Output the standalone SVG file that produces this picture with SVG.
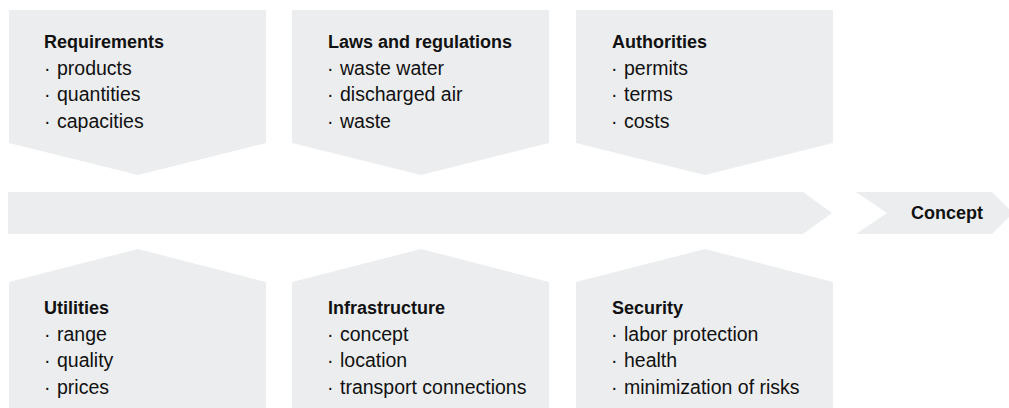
<svg xmlns="http://www.w3.org/2000/svg" width="1009" height="408" viewBox="0 0 1009 408">
<style>
.box{fill:#ECEDEE}
.t{font-family:"Liberation Sans",Arial,sans-serif;font-weight:bold;font-size:18px;fill:#111}
.b{font-family:"Liberation Sans",Arial,sans-serif;font-size:19.5px;fill:#111}
</style>
<rect width="1009" height="408" fill="#fff"/>
<g id="connectors">
<polygon id="main-arrow" class="box" points="8,192 803,192 832,213 803,234 8,234"/>
</g>
<g id="concept">
<polygon class="box" points="856,192 992,192 1013,213 992,234 856,234 887,213"/>
<text class="t" x="911" y="219">Concept</text>
</g>
<g id="requirements">
<polygon class="box" points="9,10 266,10 266,143 138,175 9,143"/>
<text class="t" x="44" y="48">Requirements</text>
<text class="b"><tspan x="44" y="74.5">·</tspan><tspan x="57">products</tspan></text>
<text class="b"><tspan x="44" y="101">·</tspan><tspan x="57">quantities</tspan></text>
<text class="b"><tspan x="44" y="127.5">·</tspan><tspan x="57">capacities</tspan></text>
</g>
<g id="laws">
<polygon class="box" points="292,10 549,10 549,143 421,175 292,143"/>
<text class="t" x="328" y="48">Laws and regulations</text>
<text class="b"><tspan x="327" y="74.5">·</tspan><tspan x="340">waste water</tspan></text>
<text class="b"><tspan x="327" y="101">·</tspan><tspan x="340">discharged air</tspan></text>
<text class="b"><tspan x="327" y="127.5">·</tspan><tspan x="340">waste</tspan></text>
</g>
<g id="authorities">
<polygon class="box" points="576,10 833,10 833,143 705,175 576,143"/>
<text class="t" x="612" y="48">Authorities</text>
<text class="b"><tspan x="611" y="74.5">·</tspan><tspan x="624">permits</tspan></text>
<text class="b"><tspan x="611" y="101">·</tspan><tspan x="624">terms</tspan></text>
<text class="b"><tspan x="611" y="127.5">·</tspan><tspan x="624">costs</tspan></text>
</g>
<g id="utilities">
<polygon class="box" points="9,282 138,249 266,282 266,408 9,408"/>
<text class="t" x="44" y="314">Utilities</text>
<text class="b"><tspan x="44" y="340.5">·</tspan><tspan x="57">range</tspan></text>
<text class="b"><tspan x="44" y="367">·</tspan><tspan x="57">quality</tspan></text>
<text class="b"><tspan x="44" y="393.5">·</tspan><tspan x="57">prices</tspan></text>
</g>
<g id="infrastructure">
<polygon class="box" points="292,282 421,249 549,282 549,408 292,408"/>
<text class="t" x="328" y="314">Infrastructure</text>
<text class="b"><tspan x="327" y="340.5">·</tspan><tspan x="340">concept</tspan></text>
<text class="b"><tspan x="327" y="367">·</tspan><tspan x="340">location</tspan></text>
<text class="b"><tspan x="327" y="393.5">·</tspan><tspan x="340">transport connections</tspan></text>
</g>
<g id="security">
<polygon class="box" points="576,282 705,249 833,282 833,408 576,408"/>
<text class="t" x="612" y="314">Security</text>
<text class="b"><tspan x="611" y="340.5">·</tspan><tspan x="624">labor protection</tspan></text>
<text class="b"><tspan x="611" y="367">·</tspan><tspan x="624">health</tspan></text>
<text class="b"><tspan x="611" y="393.5">·</tspan><tspan x="624">minimization of risks</tspan></text>
</g>
</svg>
